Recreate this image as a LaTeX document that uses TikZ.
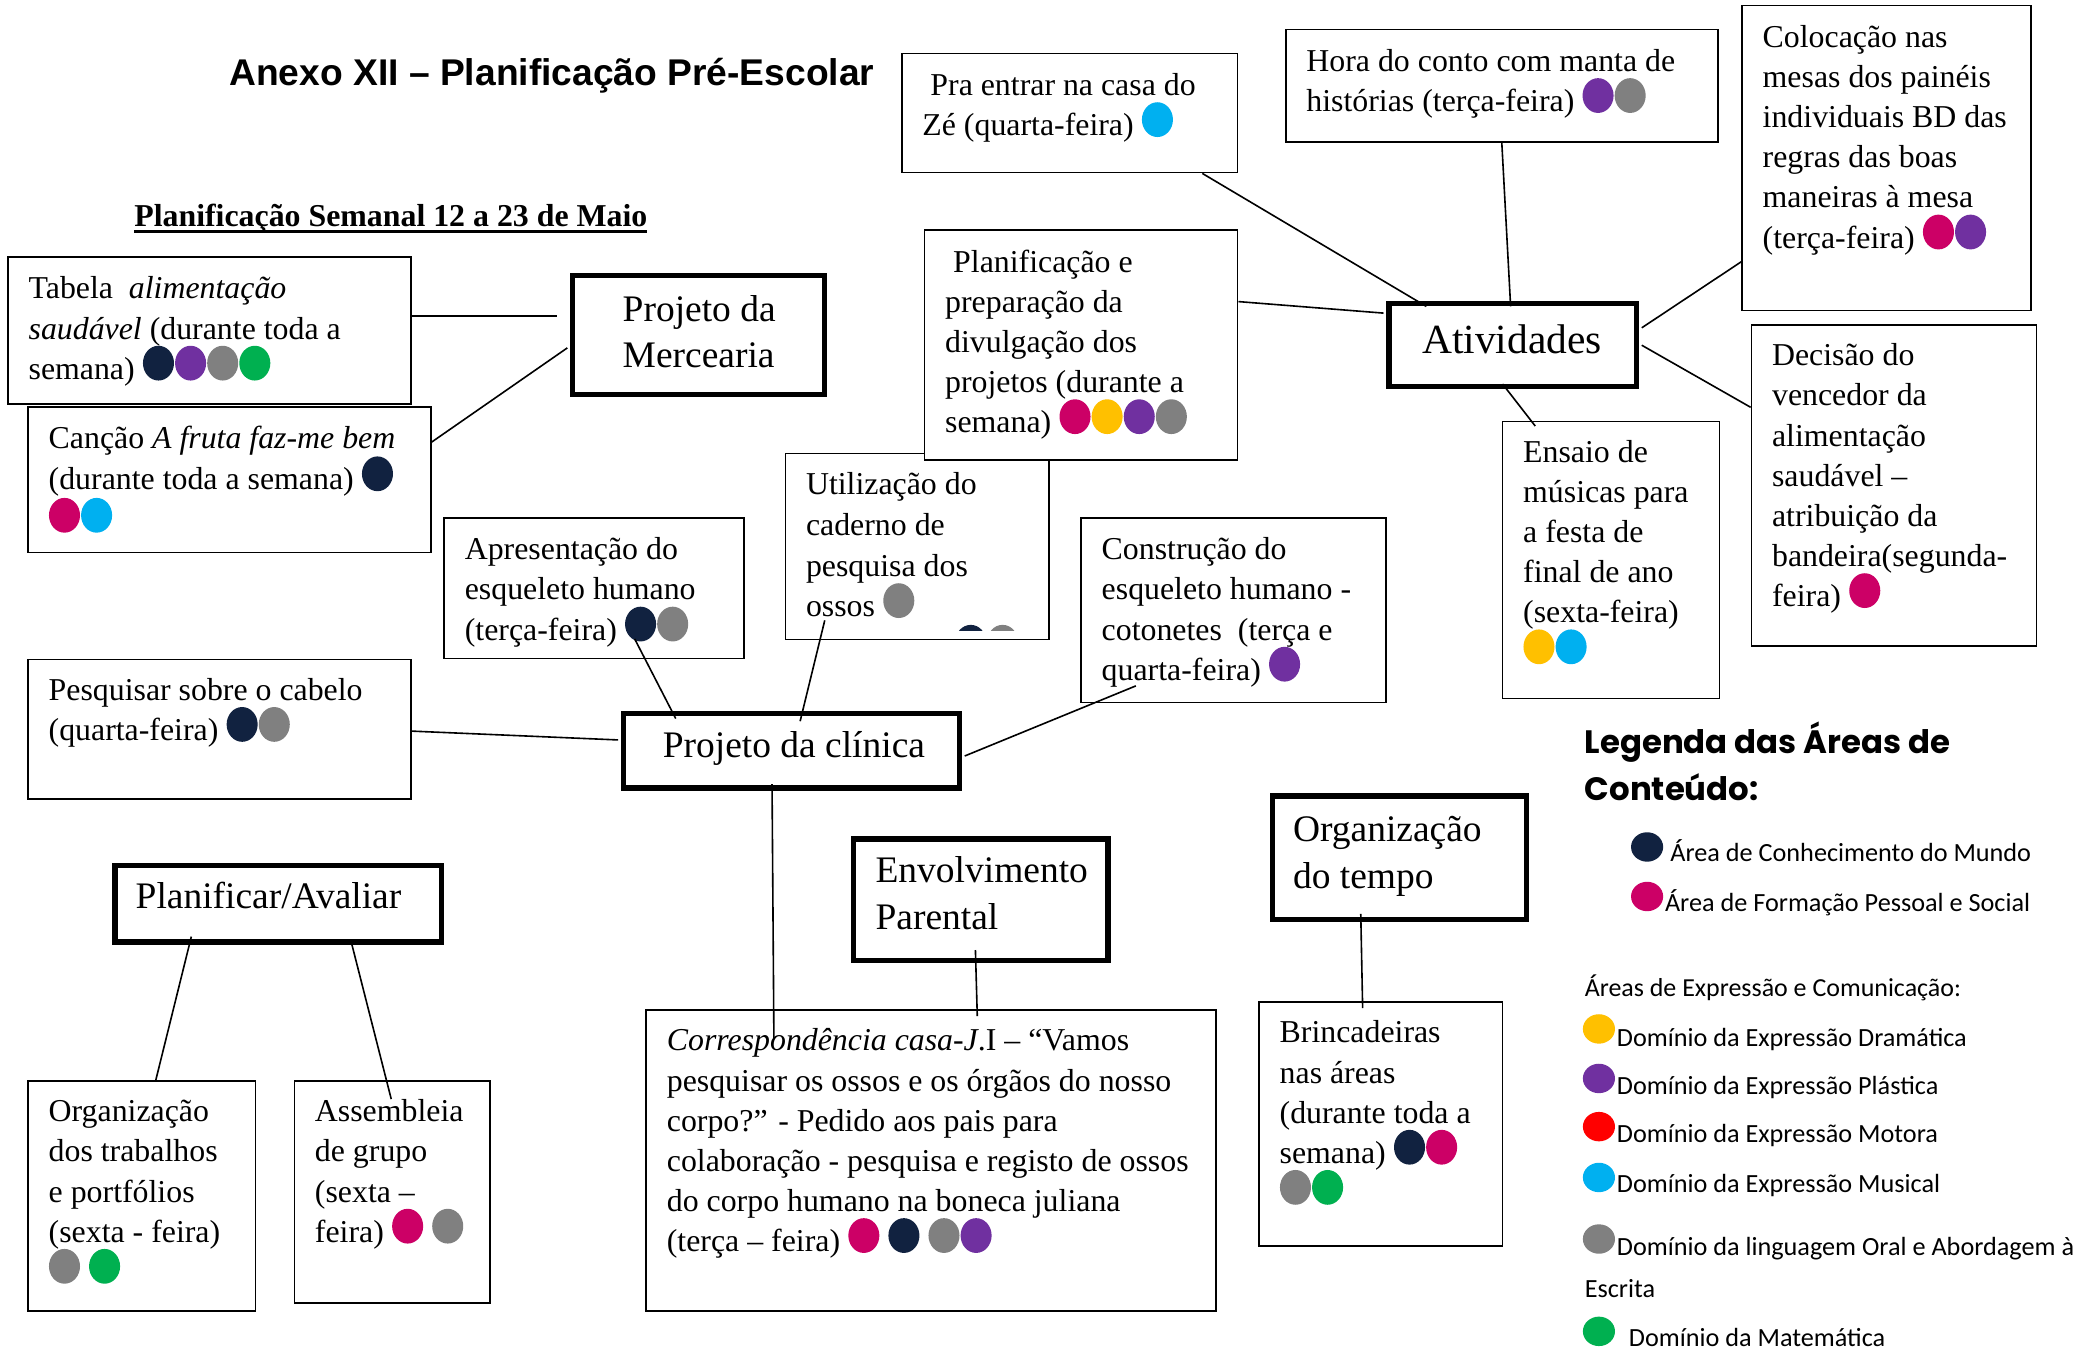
\documentclass[tikz,border=0pt]{standalone}
\usepackage{fontspec}
\setmainfont{Liberation Serif}
\newfontfamily\arialb{Liberation Sans}
\newfontfamily\calfont{Carlito}
\newfontfamily\legtfont{Poppins}
\usetikzlibrary{fit,calc}
\definecolor{nv}{HTML}{112240}
\definecolor{pu}{HTML}{7030A0}
\definecolor{gr}{HTML}{808080}
\definecolor{gn}{HTML}{00B050}
\definecolor{mg}{HTML}{CC0066}
\definecolor{cy}{HTML}{00B0F0}
\definecolor{ye}{HTML}{FFC000}
\definecolor{rd}{HTML}{FF0000}
\newcommand\dt[1]{\tikz[baseline=0pt]{\useasboundingbox (0pt,0pt) rectangle (12pt,1pt);\fill[#1] (5.9pt,6pt) ellipse [x radius=5.8pt, y radius=6.5pt];}}
\newcommand\thickul[1]{\setbox0\hbox{#1}\rlap{\vrule height -1.6pt depth 2.6pt width \wd0}\box0}
\tikzset{
  bx/.style={draw, line width=0.6pt, fill=white, inner sep=0pt},
  hb/.style={draw, line width=2pt, fill=white, inner sep=0pt},
  txt/.style={anchor=north west, inner sep=0pt, align=left, font=\fontsize{11.9}{15}\selectfont},
  htxt/.style={anchor=north west, inner sep=0pt, align=left, font=\fontsize{14}{17.5}\selectfont},
  hline/.style={anchor=base west, inner sep=0pt, font=\fontsize{14}{17.5}\selectfont},
  legtxt/.style={anchor=base west, inner sep=0pt, font=\calfont\fontsize{9.8}{12}\selectfont},
  cn/.style={line width=0.6pt}
}
\begin{document}
\begin{tikzpicture}[x=0.5pt,y=-0.5pt]
\useasboundingbox (0,0) rectangle (1568,1009);
\fill[white] (0,0) rectangle (1568,1009);

% titles
\node[anchor=base west, inner sep=0pt, font=\arialb\bfseries\fontsize{13.9}{16}\selectfont] (title) at (171,64) {Anexo XII – Planificação Pré-Escolar};
\node[anchor=base west, inner sep=0pt, font=\bfseries\fontsize{11.9}{15}\selectfont] (sub) at (100,169) {\thickul{Planificação Semanal 12 a 23 de Maio}};

% boxes
\node[bx, fit={(674,40)(925,129)}] (pra) {};
\node[bx, fit={(961,22)(1284,106)}] (hora) {};
\node[bx, fit={(1302,4)(1518,232)}] (col) {};
\node[bx, fit={(1309,243)(1522,483)}] (dec) {};
\node[bx, fit={(587,339)(784,478)}] (util) {};
\begin{scope}
\clip (700,455) rectangle (770,471.5);
\fill[nv] (725.5,479.5) ellipse [x radius=11.5, y radius=12.5];
\fill[gr] (749.3,479.5) ellipse [x radius=11.5, y radius=12.5];
\end{scope}
\node[bx, fit={(691,172)(925,344)}] (plan) {};
\node[bx, fit={(1123,315)(1285,522)}] (ens) {};
\node[bx, fit={(808,387)(1036,525)}] (cons) {};
\node[bx, fit={(332,387)(556,492)}] (apres) {};
\node[bx, fit={(6,192)(307,302)}] (tab) {};
\node[bx, fit={(21,304)(322,413)}] (can) {};
\node[bx, fit={(21,493)(307,597)}] (pesq) {};
\node[bx, fit={(21,808)(191,980)}] (orgt) {};
\node[bx, fit={(220,808)(366,974)}] (assem) {};
\node[bx, fit={(483,755)(909,980)}] (corr) {};
\node[bx, fit={(941,749)(1123,931)}] (brinc) {};

\node[hb, fit={(1038,227)(1223,289)}] (ativ) {};
\node[hb, fit={(428,206)(616,295)}] (merc) {};
\node[hb, fit={(466,533)(717,589)}] (clin) {};
\node[hb, fit={(86,647)(330,704)}] (pa) {};
\node[hb, fit={(638,627)(828,718)}] (env) {};
\node[hb, fit={(951,595)(1141,687)}] (otemp) {};

% box texts
\node[txt] (pra-t) at (689,50) {\strut\hspace{3pt}Pra entrar na casa do\\Zé (quarta-feira) \dt{cy}};
\node[txt] (hora-t) at (976,32) {\strut Hora do conto com manta de\\histórias (terça-feira) \dt{pu}\dt{gr}};
\node[txt] (col-t) at (1317,14) {\strut Colocação nas\\mesas dos painéis\\individuais BD das\\regras das boas\\maneiras à mesa\\(terça-feira) \dt{mg}\dt{pu}};
\node[txt] (dec-t) at (1324,252) {\strut Decisão do\\vencedor da\\alimentação\\saudável –\\atribuição da\\bandeira(segunda-\\feira) \dt{mg}};
\node[txt] (plan-t) at (706,182) {\strut\hspace{3pt}Planificação e\\preparação da\\divulgação dos\\projetos (durante a\\semana) \dt{mg}\dt{ye}\dt{pu}\dt{gr}};
\node[txt] (ens-t) at (1138,324) {\strut Ensaio de\\músicas para\\a festa de\\final de ano\\(sexta-feira)\\\dt{ye}\dt{cy}};
\node[txt] (cons-t) at (823,397) {\strut Construção do\\esqueleto humano -\\cotonetes\ \ (terça e\\quarta-feira) \dt{pu}};
\node[txt, font=\fontsize{11.9}{15.2}\selectfont] (util-t) at (602,348) {\strut Utilização do\\caderno de\\pesquisa dos\\ossos \dt{gr}};
\node[txt] (apres-t) at (347,397) {\strut Apresentação do\\esqueleto humano\\(terça-feira) \dt{nv}\dt{gr}};
\node[txt] (tab-t) at (21,202) {\strut Tabela\ \ \textit{alimentação}\\\textit{saudável} (durante toda a\\semana) \dt{nv}\dt{pu}\dt{gr}\dt{gn}};
\node[txt, font=\fontsize{11.9}{15.5}\selectfont] (can-t) at (36,313) {\strut Canção \textit{A fruta faz-me bem}\\(durante toda a semana) \dt{nv}\\\dt{mg}\dt{cy}};
\node[txt] (pesq-t) at (36,502) {\strut Pesquisar sobre o cabelo\\(quarta-feira) \dt{nv}\dt{gr}};
\node[txt] (orgt-t) at (36,817) {\strut Organização\\dos trabalhos\\e portfólios\\(sexta - feira)\\\dt{gr} \dt{gn}};
\node[txt] (assem-t) at (235,817) {\strut Assembleia\\de grupo\\(sexta –\\feira) \dt{mg} \dt{gr}};
\node[txt] (corr-t) at (498,764) {\strut\textit{Correspondência casa-J}.I – “Vamos\\pesquisar os ossos e os órgãos do nosso\\corpo?” - Pedido aos pais para\\colaboração - pesquisa e registo de ossos\\do corpo humano na boneca juliana\\(terça – feira) \dt{mg} \dt{nv} \dt{gr}\dt{pu}};
\node[txt] (brinc-t) at (956,758) {\strut Brincadeiras\\nas áreas\\(durante toda a\\semana) \dt{nv}\dt{mg}\\\dt{gr}\dt{gn}};

% header texts
\node[anchor=base, inner sep=0pt, font=\fontsize{15.5}{18}\selectfont] (ativ-t) at (1130,264) {Atividades};
\node[htxt] (merc-t) at (465,215) {\strut Projeto da\\Mercearia};
\node[hline] (clin-t) at (495,566) {Projeto da clínica};
\node[hline] (pa-t) at (101,679) {Planificar/Avaliar};
\node[htxt] (env-t) at (654,635) {\strut Envolvimento\\Parental};
\node[htxt] (otemp-t) at (966,604) {\strut Organização\\do tempo};

% connectors
\draw[cn] ($(tab.east)+(0,-11)$) -- ($(merc.west)+(-10,-14.5)$);
\draw[cn] ($(can.north east)+(0,27)$) -- ($(merc.west)+(-2,9.5)$);
\draw[cn] ($(pra.south east)+(-27,0)$) -- ($(ativ.north west)+(30,4)$);
\draw[cn] ($(hora.south west)+(162,0)$) -- ($(ativ.north west)+(93,4)$);
\draw[cn] ($(col.south west)+(0,-37)$) -- ($(ativ.north east)+(2,20)$);
\draw[cn] ($(dec.north west)+(0,62)$) -- ($(ativ.north east)+(2,33)$);
\draw[cn] ($(plan.north east)+(0,54)$) -- ($(ativ.north west)+(-2,9)$);
\draw[cn] ($(ativ.south west)+(87,-4)$) -- ($(ens.north west)+(25,4)$);
\draw[cn] ($(apres.south west)+(143,-15)$) -- ($(clin.north west)+(41,6)$);
\draw[cn] ($(util.south west)+(30,-15)$) -- ($(clin.north west)+(134,8)$);
\draw[cn] ($(pesq.north east)+(0,54)$) -- ($(clin.north west)+(-2,22)$);
\draw[cn] ($(clin.north east)+(2,34)$) -- ($(cons.south west)+(41.5,-13)$);
\draw[cn] ($(clin.south west)+(113,-5)$) -- ($(corr.north west)+(96,22)$);
\draw[cn] ($(env.south west)+(93,-10)$) -- ($(corr.north west)+(248,5)$);
\draw[cn] ($(otemp.south west)+(68,-6)$) -- ($(brinc.north west)+(78,5)$);
\draw[cn] ($(pa.south west)+(59,-6)$) -- ($(orgt.north west)+(96,0)$);
\draw[cn] ($(pa.south west)+(178,-4)$) -- ($(assem.north west)+(73,14)$);

% legend
\node[anchor=north west, inner sep=0pt, align=left, font=\legtfont\bfseries\fontsize{12.1}{17.5}\selectfont] (legt) at (1184,538) {\strut Legenda das Áreas de\\Conteúdo:};
\fill[nv] (1231,633) ellipse [x radius=12, y radius=11];
\node[legtxt] (leg1) at (1248,644) {Área de Conhecimento do Mundo};
\fill[mg] (1231,670) ellipse [x radius=12, y radius=11];
\node[legtxt] (leg2) at (1244,681) {Área de Formação Pessoal e Social};
\node[legtxt, font=\calfont\fontsize{9.7}{12}\selectfont] (leg3) at (1184,745) {Áreas de Expressão e Comunicação:};
\fill[ye] (1195,769) ellipse [x radius=12, y radius=11];
\node[legtxt] (leg4) at (1208,782) {Domínio da Expressão Dramática};
\fill[pu] (1195,806) ellipse [x radius=12, y radius=11];
\node[legtxt] (leg5) at (1208,818) {Domínio da Expressão Plástica};
\fill[rd] (1195,842) ellipse [x radius=12, y radius=11];
\node[legtxt] (leg6) at (1208,854) {Domínio da Expressão Motora};
\fill[cy] (1195,880) ellipse [x radius=12, y radius=11];
\node[legtxt] (leg7) at (1208,891) {Domínio da Expressão Musical};
\fill[gr] (1195,926) ellipse [x radius=12, y radius=11];
\node[legtxt] (leg8) at (1208,938) {Domínio da linguagem Oral e Abordagem à};
\node[legtxt] (leg8b) at (1184,970) {Escrita};
\fill[gn] (1195,995) ellipse [x radius=12, y radius=11];
\node[legtxt] (leg9) at (1217,1006) {Domínio da Matemática};
\end{tikzpicture}
\end{document}
